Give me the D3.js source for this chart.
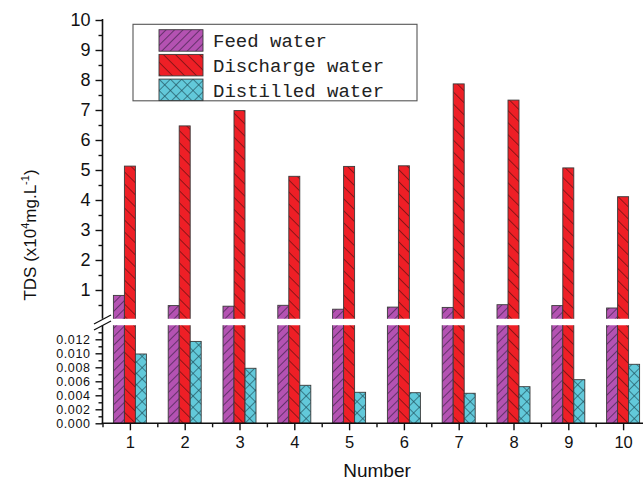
<!DOCTYPE html>
<html>
<head>
<meta charset="utf-8">
<script src="https://cdn.jsdelivr.net/npm/d3@7/dist/d3.min.js"></script>
<style>
  html, body { margin: 0; padding: 0; background: #fff; overflow: hidden; }
  svg { display: block; }
</style>
</head>
<body>
<svg id="chart" width="643" height="483"></svg>
<script>
// Sample numbers 1..10
const samples = [1, 2, 3, 4, 5, 6, 7, 8, 9, 10];
// TDS in units of 10^4 mg/L
const feedWater      = [0.82, 0.48, 0.46, 0.49, 0.36, 0.43, 0.42, 0.51, 0.48, 0.40];
const dischargeWater = [5.13, 6.47, 6.98, 4.79, 5.12, 5.14, 7.87, 7.33, 5.07, 4.11];
const distilledWater = [0.0099, 0.0117, 0.00786, 0.00543, 0.00443, 0.00437, 0.00429, 0.00523, 0.00623, 0.00843];

const seriesNames = ["Feed water", "Discharge water", "Distilled water"];
const upperTicks = [1, 2, 3, 4, 5, 6, 7, 8, 9, 10];
const upperMinorTicks = [0.5, 1.5, 2.5, 3.5, 4.5, 5.5, 6.5, 7.5, 8.5, 9.5];
const lowerTicks = [0, 0.002, 0.004, 0.006, 0.008, 0.010, 0.012];
const lowerMinorTicks = [0.001, 0.003, 0.005, 0.007, 0.009, 0.011, 0.013];
const xMinorTicks = [0.5, 1.5, 2.5, 3.5, 4.5, 5.5, 6.5, 7.5, 8.5, 9.5, 10.5];

const svg = d3.select("#chart");
const defs = svg.append("defs");

// Hatch fills
function hatch(id, bg, size, angles, lineColor) {
  angles.forEach((a, i) => {
    const p = defs.append("pattern")
      .attr("id", id + (angles.length > 1 ? "_" + i : ""))
      .attr("patternUnits", "userSpaceOnUse")
      .attr("width", size).attr("height", size)
      .attr("patternTransform", `rotate(${a})`);
    if (i === 0) p.append("rect").attr("width", size).attr("height", size).attr("fill", bg);
    p.append("line").attr("x1", 0).attr("y1", 0).attr("x2", 0).attr("y2", size)
      .attr("stroke", lineColor).attr("stroke-width", 1.3);
  });
}
hatch("pFeed", "#b452b2", 6, [45], "#3a1f44");
hatch("pDis", "#ee1f26", 8.5, [-45], "#5a1010");
hatch("pDst", "#62c9da", 8, [45, -45], "#1f4f5a");

const fills = [
  [{ fill: "url(#pFeed)" }],
  [{ fill: "url(#pDis)" }],
  [{ fill: "url(#pDst_0)" }, { fill: "url(#pDst_1)" }]
];
const seriesData = [feedWater, dischargeWater, distilledWater];

// Scales
const x = d3.scaleLinear().domain([0.5, 10.5]).range([102.5, 650.5]);
const yUp = d3.scaleLinear().domain([0, 10]).range([320, 20]);
const yLo = d3.scaleLinear().domain([0, 0.014]).range([423.3, 325.3]);
const barW = 11;
const offsets = [-1.5, -0.5, 0.5];

const upTop = 20, upBottom = 318.7, loTop = 325.3, loBottom = 423.3;

defs.append("clipPath").attr("id", "clipUp")
  .append("rect").attr("x", 0).attr("y", 0).attr("width", 643).attr("height", upBottom);
defs.append("clipPath").attr("id", "clipLo")
  .append("rect").attr("x", 0).attr("y", loTop).attr("width", 643).attr("height", loBottom - loTop);

function drawBars(scale, clipId) {
  const g = svg.append("g").attr("clip-path", `url(#${clipId})`);
  seriesData.forEach((vals, si) => {
    const [d0, d1] = scale.domain();
    fills[si].forEach((f, li) => {
      g.append("g").selectAll("rect")
        .data(vals.map((v, i) => ({ v, s: samples[i] })))
        .join("rect")
        .attr("x", d => x(d.s) + offsets[si] * barW)
        .attr("width", barW)
        .attr("y", d => scale(Math.min(d.v, d1 * 1.05)))
        .attr("height", d => scale(d0) - scale(Math.min(d.v, d1 * 1.05)))
        .attr("fill", f.fill)
        .attr("stroke", li === fills[si].length - 1 ? "#3a3a3a" : "none")
        .attr("stroke-width", 0.9);
    });
  });
}
drawBars(yUp, "clipUp");
drawBars(yLo, "clipLo");

// Axes
const axisColor = "#111";
function styleAxis(g, fontSize) {
  g.select(".domain").remove();
  g.selectAll(".tick line").attr("stroke", axisColor).attr("stroke-width", 1.4);
  g.selectAll(".tick text").attr("fill", "#111")
    .style("font-family", "'Liberation Sans', Arial, sans-serif")
    .style("font-size", fontSize + "px");
}

const gUp = svg.append("g").attr("transform", "translate(102.5,0)")
  .call(d3.axisLeft(yUp).tickValues(upperTicks).tickSize(7).tickPadding(5).tickFormat(d3.format("d")));
styleAxis(gUp, 18);
const gUpMinor = svg.append("g").attr("transform", "translate(102.5,0)")
  .call(d3.axisLeft(yUp).tickValues(upperMinorTicks).tickSize(4).tickFormat(""));
styleAxis(gUpMinor, 10);

const gLo = svg.append("g").attr("transform", "translate(102.5,0)")
  .call(d3.axisLeft(yLo).tickValues(lowerTicks).tickSize(7).tickPadding(5).tickFormat(d3.format(".3f")));
styleAxis(gLo, 12.5);
gLo.selectAll(".tick text").attr("dy", "0.36em").style("letter-spacing", "0.6px");
const gLoMinor = svg.append("g").attr("transform", "translate(102.5,0)")
  .call(d3.axisLeft(yLo).tickValues(lowerMinorTicks).tickSize(4).tickFormat(""));
styleAxis(gLoMinor, 10);

const gX = svg.append("g").attr("transform", `translate(0,${loBottom})`)
  .call(d3.axisBottom(x).tickValues(samples).tickSize(7).tickPadding(6).tickFormat(d3.format("d")));
styleAxis(gX, 16.5);
const gXMinor = svg.append("g").attr("transform", `translate(0,${loBottom})`)
  .call(d3.axisBottom(x).tickValues(xMinorTicks).tickSize(4).tickFormat(""));
styleAxis(gXMinor, 10);

// Axis lines with the break
svg.append("line").attr("x1", 102.5).attr("x2", 102.5).attr("y1", upTop - 1).attr("y2", upBottom)
  .attr("stroke", axisColor).attr("stroke-width", 1.6);
svg.append("line").attr("x1", 102.5).attr("x2", 102.5).attr("y1", loTop).attr("y2", loBottom)
  .attr("stroke", axisColor).attr("stroke-width", 1.6);
svg.append("line").attr("x1", 101.7).attr("x2", 643).attr("y1", loBottom).attr("y2", loBottom)
  .attr("stroke", axisColor).attr("stroke-width", 1.6);
[0, 6].forEach(dy => {
  svg.append("line")
    .attr("x1", 94).attr("y1", 324 + dy).attr("x2", 111).attr("y2", 315 + dy)
    .attr("stroke", axisColor).attr("stroke-width", 1.3);
});

// Axis titles
svg.append("text")
  .attr("x", 377).attr("y", 477)
  .attr("text-anchor", "middle")
  .style("font-family", "'Liberation Sans', Arial, sans-serif")
  .style("font-size", "19px").attr("fill", "#111")
  .text("Number");

const yt = svg.append("text")
  .attr("transform", "translate(36,235) rotate(-90)")
  .attr("text-anchor", "middle")
  .style("font-family", "'Liberation Sans', Arial, sans-serif")
  .style("font-size", "17px").attr("fill", "#111");
yt.append("tspan").text("TDS (x10");
yt.append("tspan").attr("dy", -7).style("font-size", "11px").text("4");
yt.append("tspan").attr("dy", 7).text("mg.L");
yt.append("tspan").attr("dy", -7).style("font-size", "11px").text("-1");
yt.append("tspan").attr("dy", 7).text(")");

// Legend
const lg = svg.append("g");
lg.append("rect").attr("x", 133).attr("y", 24.3).attr("width", 284).attr("height", 76.5)
  .attr("fill", "#fff").attr("stroke", "#555").attr("stroke-width", 1.1);
seriesNames.forEach((name, i) => {
  const yy = 29.7 + i * 24.7;
  fills[i].forEach((f, li) => {
    lg.append("rect").attr("x", 159).attr("y", yy).attr("width", 44).attr("height", 21.5)
      .attr("fill", f.fill)
      .attr("stroke", li === fills[i].length - 1 ? "#3a3a3a" : "none").attr("stroke-width", 0.9);
  });
  lg.append("text").attr("x", 213).attr("y", yy + 17.5)
    .style("font-family", "'Liberation Mono', 'Courier New', monospace")
    .style("font-size", "19px").attr("fill", "#222")
    .text(name);
});
</script>
</body>
</html>
